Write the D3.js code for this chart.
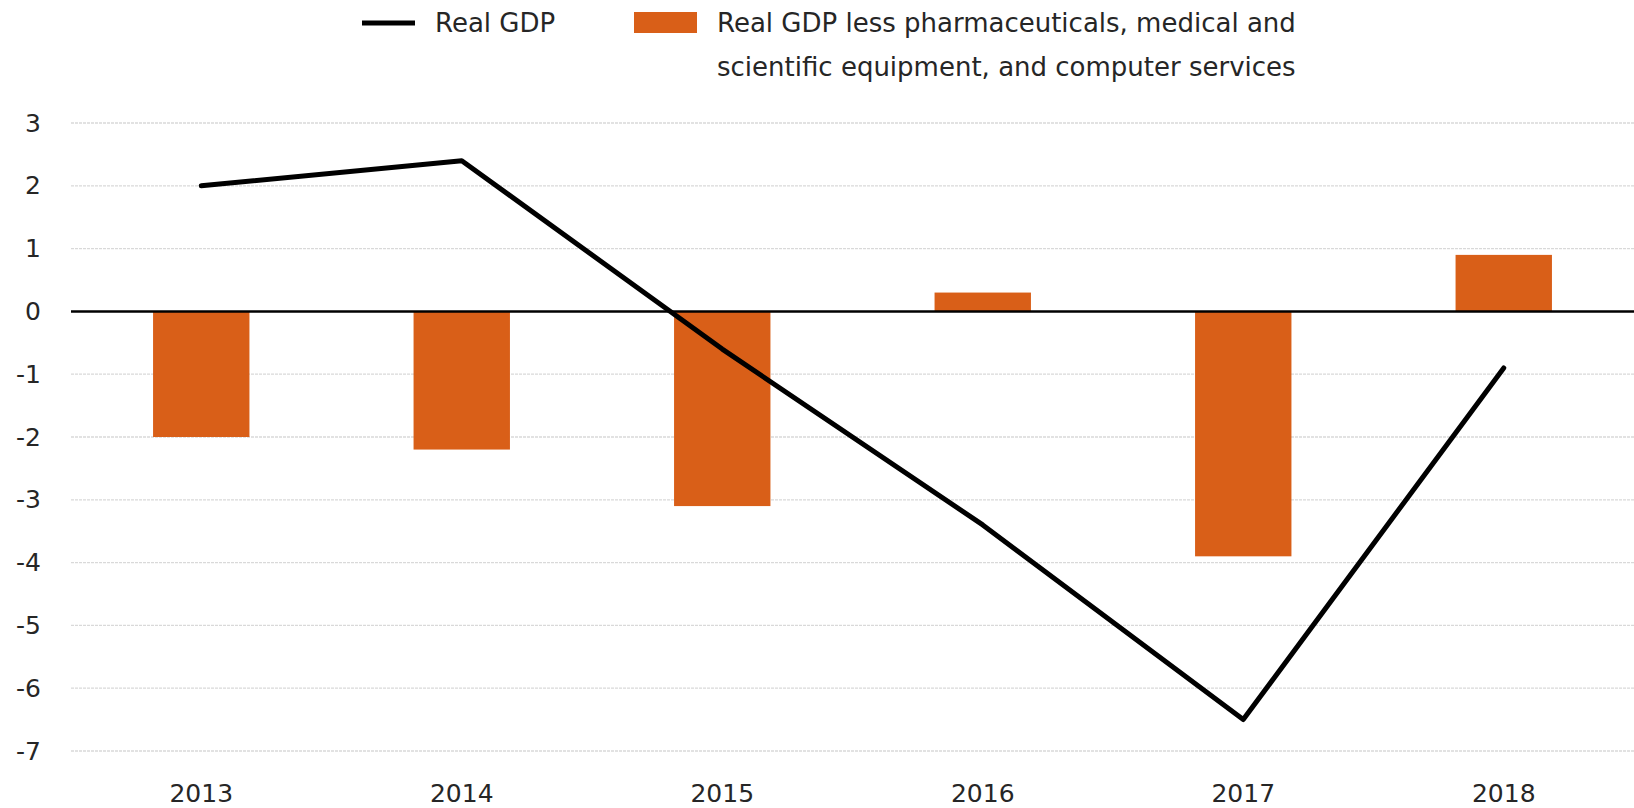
<!DOCTYPE html>
<html><head><meta charset="utf-8">
<script src="https://cdn.jsdelivr.net/npm/d3@7"></script>
<style>body{margin:0;background:#fff}svg{display:block}text{font-family:"DejaVu Sans",sans-serif;fill:#262626}</style>
</head><body>
<svg id="c" width="1634" height="808"></svg>
<script>
const years = ["2013","2014","2015","2016","2017","2018"];
const realGDP = [2.0, 2.4, -0.6, -3.4, -6.5, -0.9];
const realGDPLess = [-2.0, -2.2, -3.1, 0.3, -3.9, 0.9];
const yTicks = [3,2,1,0,-1,-2,-3,-4,-5,-6,-7];
const legendLine = "Real GDP";
const legendBar = ["Real GDP less pharmaceuticals, medical and","scientific equipment, and computer services"];

const FONT = "DejaVu Sans";
const svg = d3.select("#c");
const x = d3.scaleBand().domain(years).range([71,1634]).paddingInner(0.63).paddingOuter(0.315);
const y = d3.scaleLinear().domain([-7,3]).range([751,123]);
const xc = d => x(d) + x.bandwidth()/2;

// gridlines
svg.append("g").selectAll("line").data(yTicks.filter(t=>t!==0)).join("line")
  .attr("x1",71).attr("x2",1634).attr("y1",d=>y(d)).attr("y2",d=>y(d))
  .attr("stroke","#d9d9d9").attr("stroke-width",1.3).attr("stroke-dasharray","3,1");

// y labels
const ya = d3.axisLeft(y).tickValues(yTicks).tickSize(0).tickPadding(0).tickFormat(d => String(d));
const yg = svg.append("g").attr("transform","translate(41,0)").call(ya);
yg.select(".domain").remove();
yg.selectAll("text").attr("font-size",25).attr("font-family",FONT).attr("fill","#262626");

// bars
svg.append("g").selectAll("rect").data(years).join("rect")
  .attr("x",d=>x(d)).attr("width",x.bandwidth())
  .attr("y",(d,i)=>y(Math.max(0,realGDPLess[i])))
  .attr("height",(d,i)=>Math.abs(y(realGDPLess[i])-y(0)))
  .attr("fill","#d95f18");

// zero line
svg.append("line").attr("x1",71).attr("x2",1634).attr("y1",y(0)).attr("y2",y(0))
  .attr("stroke","#000").attr("stroke-width",2.5);

// GDP line
const line = d3.line().x((d,i)=>xc(years[i])).y(d=>y(d));
svg.append("path").datum(realGDP).attr("d",line).attr("fill","none")
  .attr("stroke","#000").attr("stroke-width",5).attr("stroke-linecap","round").attr("stroke-linejoin","round");

// x labels
const xa = d3.axisBottom(x).tickSize(0).tickPadding(0);
const xg = svg.append("g").attr("transform","translate(0,793)").call(xa);
xg.select(".domain").remove();
xg.selectAll("text").attr("font-size",25).attr("font-family",FONT).attr("fill","#262626").attr("dy","0.35em");

// legend
const lg = svg.append("g");
lg.append("line").attr("x1",362).attr("x2",415).attr("y1",23).attr("y2",23).attr("stroke","#000").attr("stroke-width",5);
lg.append("text").attr("x",435).attr("y",23).attr("dy","0.35em").attr("font-size",26).text(legendLine);
lg.append("rect").attr("x",634).attr("y",12).attr("width",63).attr("height",21).attr("fill","#d95f18");
lg.selectAll("text.b").data(legendBar).join("text").attr("class","b")
  .attr("x",717).attr("y",(d,i)=>23+i*44).attr("dy","0.35em").attr("font-size",26).text(d=>d);
</script>
</body></html>
